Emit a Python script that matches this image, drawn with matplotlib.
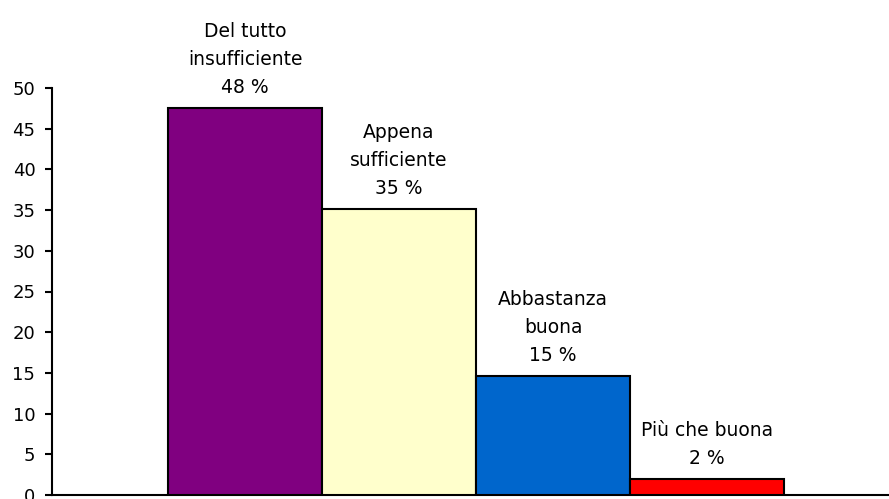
import matplotlib
matplotlib.use("Agg")
import matplotlib.pyplot as plt

categories = ["Del tutto\ninsufficiente", "Appena\nsufficiente", "Abbastanza\nbuona", "Più che buona"]
values = [47.5, 35.1, 14.6, 2.0]
labels = ["48 %", "35 %", "15 %", "2 %"]
colors = ["#800080", "#FFFFCC", "#0066CC", "#FF0000"]
yticks = [0, 5, 10, 15, 20, 25, 30, 35, 40, 45, 50]

W, H = 889, 499
fig = plt.figure(figsize=(W / 100, H / 100), dpi=100)
left, right = 52, 889
bottom_px, top_px = 495, 88
ax = fig.add_axes([left / W, (H - bottom_px) / H, (right - left) / W, (bottom_px - top_px) / H])

x = list(range(len(values)))
ax.bar(x, values, width=1.0, color=colors, edgecolor="black", linewidth=1.5, zorder=3)

for xi, v, cat, lab in zip(x, values, categories, labels):
    ax.annotate(cat + "\n" + lab, (xi, v), xytext=(0, 8), textcoords="offset points",
                ha="center", va="bottom", fontsize=13.5, linespacing=1.6,
                family="DejaVu Sans", annotation_clip=False)

ax.set_ylim(0, 50)
ax.set_yticks(yticks)
ax.set_xlim(-0.5 - 116 / 154, 3.5 + 105 / 154)
ax.set_xticks([])
for s in ["top", "right"]:
    ax.spines[s].set_visible(False)
ax.spines["left"].set_linewidth(1.5)
ax.spines["bottom"].set_linewidth(1.5)
ax.tick_params(axis="y", direction="out", length=5, width=1.5, labelsize=13, pad=7)

fig.savefig("out.png", dpi=100)
